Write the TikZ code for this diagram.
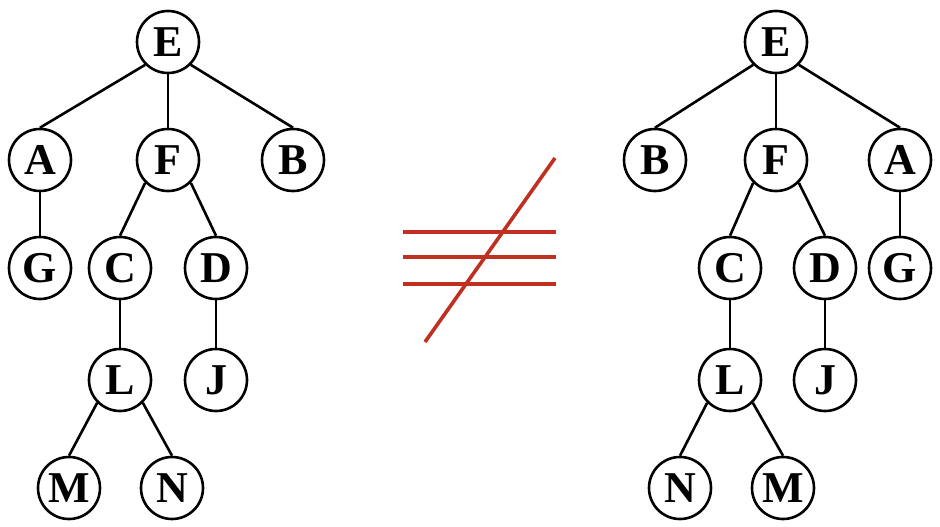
\documentclass[tikz,border=0pt]{standalone}
\usepackage{fontspec}
\setmainfont{Liberation Serif}
\definecolor{signred}{RGB}{192,48,32}

\begin{document}
\begin{tikzpicture}[
  x=1pt, y=-1pt,
  tree node/.style={
    draw,
    circle,
    line width=2.6pt,
    minimum size=62pt,
    inner sep=0pt,
    font=\fontsize{44}{44}\selectfont\bfseries,
  },
  tree edge/.style={
    line width=2.6pt,
  },
  sign line/.style={
    draw=signred,
    line width=3.6pt,
  },
  ]
  \useasboundingbox (0,0) rectangle (940,527);

  % left tree
  \node[tree node] (left-E) at (168,42) {E};
  \node[tree node] (left-A) at (40,160) {A};
  \node[tree node] (left-F) at (168,160) {F};
  \node[tree node] (left-B) at (293,160) {B};
  \node[tree node] (left-G) at (40,268) {G};
  \node[tree node] (left-C) at (120,268) {C};
  \node[tree node] (left-D) at (216,268) {D};
  \node[tree node] (left-L) at (120,380) {L};
  \node[tree node] (left-J) at (216,380) {J};
  \node[tree node] (left-M) at (69,488) {M};
  \node[tree node] (left-N) at (172,488) {N};

  % right tree
  \node[tree node] (right-E) at (776,42) {E};
  \node[tree node] (right-B) at (655,160) {B};
  \node[tree node] (right-F) at (776,160) {F};
  \node[tree node] (right-A) at (900,160) {A};
  \node[tree node] (right-C) at (730,268) {C};
  \node[tree node] (right-D) at (825,268) {D};
  \node[tree node] (right-G) at (900,268) {G};
  \node[tree node] (right-L) at (730,380) {L};
  \node[tree node] (right-J) at (825,380) {J};
  \node[tree node] (right-N) at (680,488) {N};
  \node[tree node] (right-M) at (783,488) {M};

  \draw[tree edge] (left-E.south west) -- (left-A.north);
  \draw[tree edge] (left-E.south) -- (left-F.north);
  \draw[tree edge] (left-E.south east) -- (left-B.north);
  \draw[tree edge] (left-A.south) -- (left-G.north);
  \draw[tree edge] (left-F.south west) -- (left-C.north);
  \draw[tree edge] (left-F.south east) -- (left-D.north);
  \draw[tree edge] (left-C.south) -- (left-L.north);
  \draw[tree edge] (left-D.south) -- (left-J.north);
  \draw[tree edge] (left-L.south west) -- (left-M.north);
  \draw[tree edge] (left-L.south east) -- (left-N.north);

  \draw[tree edge] (right-E.south west) -- (right-B.north);
  \draw[tree edge] (right-E.south) -- (right-F.north);
  \draw[tree edge] (right-E.south east) -- (right-A.north);
  \draw[tree edge] (right-F.south west) -- (right-C.north);
  \draw[tree edge] (right-F.south east) -- (right-D.north);
  \draw[tree edge] (right-A.south) -- (right-G.north);
  \draw[tree edge] (right-C.south) -- (right-L.north);
  \draw[tree edge] (right-D.south) -- (right-J.north);
  \draw[tree edge] (right-L.south west) -- (right-N.north);
  \draw[tree edge] (right-L.south east) -- (right-M.north);

  % not-equal sign
  \coordinate (bar1-w) at (403,232);
  \coordinate (bar1-e) at (556,232);
  \coordinate (bar2-w) at (403,257);
  \coordinate (bar2-e) at (556,257);
  \coordinate (bar3-w) at (403,284);
  \coordinate (bar3-e) at (556,284);
  \coordinate (slash-s) at (425,342);
  \coordinate (slash-n) at (555,158);
  \draw[sign line] (bar1-w) -- (bar1-e);
  \draw[sign line] (bar2-w) -- (bar2-e);
  \draw[sign line] (bar3-w) -- (bar3-e);
  \draw[sign line] (slash-s) -- (slash-n);
\end{tikzpicture}
\end{document}
